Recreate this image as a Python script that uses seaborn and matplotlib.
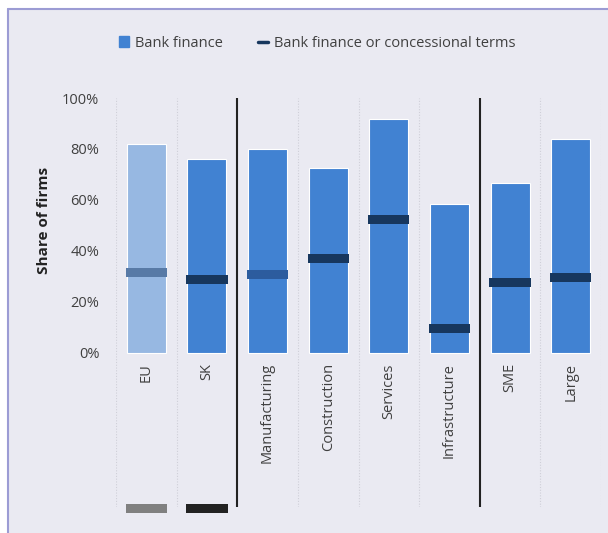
import matplotlib
matplotlib.use("Agg")
import matplotlib.pyplot as plt
import matplotlib.patches as mpatches
from matplotlib.lines import Line2D
from matplotlib.ticker import PercentFormatter
import seaborn as sns
import pandas as pd

# values
categories = ['EU', 'SK', 'Manufacturing', 'Construction', 'Services',
              'Infrastructure', 'SME', 'Large']
bank_finance = [0.82, 0.76, 0.80, 0.724, 0.918, 0.584, 0.665, 0.838]
concessional = [0.316, 0.289, 0.308, 0.371, 0.524, 0.097, 0.277, 0.297]
bar_colors = ['#97B8E2', '#4182D2', '#4182D2', '#4182D2', '#4182D2',
              '#4182D2', '#4182D2', '#4182D2']
mark_colors = ['#587AA6', '#17375E', '#2C5C9E', '#17375E', '#17375E',
               '#17375E', '#17375E', '#17375E']
swatch_colors = ['#808080', '#222222']
group_breaks = [1.5, 5.5]

sns.set_theme(style="dark")
plt.rcParams['font.family'] = ['Open Sans', 'DejaVu Sans']

df = pd.DataFrame({'cat': categories, 'bank': bank_finance})

fig = plt.figure(figsize=(6.08, 5.33), dpi=100, facecolor='white')

# lavender panel with a border on the left and top, like the source
fig.patches.append(mpatches.Rectangle((8 / 608, 0), 1, 1 - 9 / 533,
                                      transform=fig.transFigure,
                                      facecolor='#EAEAF2', edgecolor='none', zorder=-10))
fig.add_artist(Line2D([8 / 608, 8 / 608], [0, 1 - 9 / 533], transform=fig.transFigure,
                      color='#9C9CD4', lw=1.5, zorder=-9))
fig.add_artist(Line2D([8 / 608, 1], [1 - 9 / 533, 1 - 9 / 533], transform=fig.transFigure,
                      color='#9C9CD4', lw=1.5, zorder=-9))

ax = fig.add_axes([116 / 608, 1 - 507 / 533, 485 / 608, 409 / 533])
ax.set_facecolor('#EAEAF2')

sns.barplot(data=df, x='cat', y='bank', hue='cat', palette=bar_colors,
            saturation=1, width=0.645, legend=False, ax=ax,
            edgecolor='white', linewidth=0.8)

# thick dash for "bank finance or concessional terms"
xs = range(len(categories))
ax.bar(xs, [0.034] * len(xs), bottom=[v - 0.017 for v in concessional],
       width=0.68, color=mark_colors, linewidth=0, zorder=3)

# small swatches under EU / SK (leftover legend keys in the source)
sw = ax.bar([0, 1], [0.035, 0.035], bottom=[-0.627, -0.627], width=0.68,
            color=swatch_colors, linewidth=0, zorder=3)
for p in sw:
    p.set_clip_on(False)

ax.set_xlim(-0.5, len(categories) - 0.5)
ax.set_ylim(-0.604, 1.0)
for i in range(len(categories) + 1):
    xb = i - 0.5
    if xb in group_breaks:
        ax.axvline(xb, color='#222222', lw=1.5, zorder=4)
    else:
        ax.axvline(xb, color='#CFCFD8', lw=0.8, ls=(0, (1, 1.5)), zorder=1)

for i, c in enumerate(categories):
    ax.text(i, -0.04, c, rotation=90, ha='center', va='top',
            fontsize=10.5, color='#404040')

ax.set_xticks([])
ax.set_xlabel('')
ax.set_yticks([0, 0.2, 0.4, 0.6, 0.8, 1.0])
ax.yaxis.set_major_formatter(PercentFormatter(1.0, decimals=0))
ax.tick_params(axis='y', length=0, pad=12, labelsize=10.5, labelcolor='#404040')
ax.set_ylabel('Share of firms', fontsize=11, fontweight='bold', color='#222222')
ax.yaxis.set_label_coords(-0.135, 0.70)
for s in ax.spines.values():
    s.set_visible(False)

handles = [mpatches.Patch(color='#4182D2', label='Bank finance'),
           Line2D([], [], color='#17375E', lw=2.5, label='Bank finance or concessional terms')]
fig.legend(handles=handles, loc='center', bbox_to_anchor=(0.522, 0.919), ncol=2,
           frameon=False, fontsize=10.5, handlelength=0.7, handletextpad=0.4,
           columnspacing=2.4, labelcolor='#404040')

fig.savefig('out.png', dpi=100, facecolor='white')
